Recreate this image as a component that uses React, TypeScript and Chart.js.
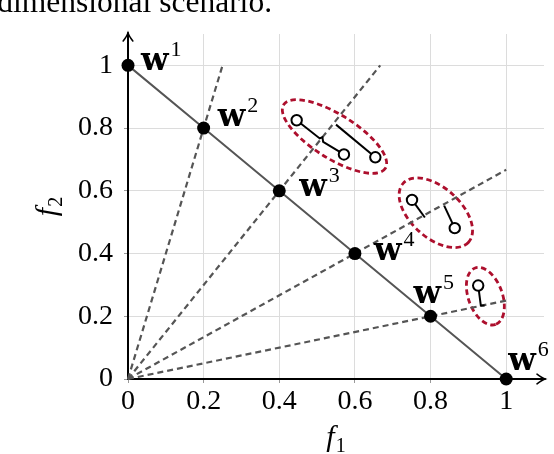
import React, { useEffect, useRef } from "react";
import { Chart, registerables } from "chart.js";

Chart.register(...registerables);

// ---- data ----
const tickValues = [0, 0.2, 0.4, 0.6, 0.8, 1];
const tickLabels = ["0", "0.2", "0.4", "0.6", "0.8", "1"];

const weightF1 = [0, 0.2, 0.4, 0.6, 0.8, 1];
const weightF2 = [1, 0.8, 0.6, 0.4, 0.2, 0];
const weightNames = ["1", "2", "3", "4", "5", "6"];

const rayEndF1 = [0.25, 0.667, 1, 1];
const rayEndF2 = [1, 1, 0.667, 0.25];

const pieceA1F1 = [0.446, 0.507, 0.514, 0.516, 0.571];
const pieceA1F2 = [0.825, 0.767, 0.771, 0.756, 0.716];
const pieceA2F1 = [0.55, 0.654];
const pieceA2F2 = [0.811, 0.707];
const pieceB1F1 = [0.751, 0.785];
const pieceB1F2 = [0.571, 0.515];
const pieceB2F1 = [0.836, 0.864];
const pieceB2F2 = [0.553, 0.481];
const pieceC1F1 = [0.926, 0.933, 0.943];
const pieceC1F2 = [0.298, 0.234, 0.234];

const openF1 = [0.446, 0.571, 0.654, 0.751, 0.864, 0.926];
const openF2 = [0.825, 0.716, 0.707, 0.571, 0.481, 0.298];

const clusterF1 = [0.546, 0.814, 0.945];
const clusterF2 = [0.773, 0.53, 0.264];

// ---- styles ----
const GRID = "#dcdcdc";
const LINE_GREY = "#555555";
const RED = "#ad0f2d";
const SERIF = '"Liberation Serif", "DejaVu Serif", serif';
const ellipseShapes = [
  { a: 60, b: 22, angle: 32 },
  { a: 44, b: 25, angle: 42 },
  { a: 30, b: 17, angle: 70 },
];
const labelOffsets = [
  { dx: 13, dy: 5 },
  { dx: 14, dy: -2 },
  { dx: 20, dy: 5 },
  { dx: 19, dy: 6 },
  { dx: -17, dy: -13 },
  { dx: 2, dy: -9 },
];

const pts = (xs: number[], ys: number[]) => xs.map((x, i) => ({ x, y: ys[i] }));

const decor = {
  id: "decor",
  beforeDatasetsDraw(chart: any) {
    const { ctx, chartArea: ca, scales } = chart;
    const xs = scales.x;
    const ys = scales.y;
    const x0 = xs.getPixelForValue(0);
    const y0 = ys.getPixelForValue(0);
    ctx.save();
    // axes with arrows
    ctx.strokeStyle = "#000";
    ctx.lineWidth = 2;
    ctx.lineCap = "round";
    ctx.beginPath();
    ctx.moveTo(x0, y0);
    ctx.lineTo(ca.right + 1, y0);
    ctx.moveTo(x0, y0);
    ctx.lineTo(x0, ca.top - 1);
    ctx.stroke();
    const ah = 8;
    ctx.lineWidth = 1.6;
    ctx.beginPath();
    ctx.moveTo(ca.right + 1 - ah, y0 - ah * 0.6);
    ctx.quadraticCurveTo(ca.right - 2, y0 - 1, ca.right + 1, y0);
    ctx.quadraticCurveTo(ca.right - 2, y0 + 1, ca.right + 1 - ah, y0 + ah * 0.6);
    ctx.moveTo(x0 - ah * 0.6, ca.top - 1 + ah);
    ctx.quadraticCurveTo(x0 - 1, ca.top + 2, x0, ca.top - 1);
    ctx.quadraticCurveTo(x0 + 1, ca.top + 2, x0 + ah * 0.6, ca.top - 1 + ah);
    ctx.stroke();

    // ellipses
    ctx.strokeStyle = RED;
    ctx.lineWidth = 2.8;
    ctx.setLineDash([5.5, 3.5]);
    ctx.lineCap = "butt";
    clusterF1.forEach((cx, i) => {
      const s = ellipseShapes[i];
      ctx.beginPath();
      ctx.ellipse(
        xs.getPixelForValue(cx),
        ys.getPixelForValue(clusterF2[i]),
        s.a,
        s.b,
        (s.angle * Math.PI) / 180,
        0,
        Math.PI * 2
      );
      ctx.stroke();
    });
    ctx.restore();
  },
  afterDraw(chart: any) {
    const { ctx, scales } = chart;
    const xs = scales.x;
    const ys = scales.y;
    ctx.save();
    ctx.fillStyle = "#000";
    ctx.textBaseline = "alphabetic";
    // weight labels
    weightF1.forEach((wx, i) => {
      const px = xs.getPixelForValue(wx) + labelOffsets[i].dx;
      const py = ys.getPixelForValue(weightF2[i]) + labelOffsets[i].dy;
      ctx.font = 'bold 32px "DejaVu Serif", serif';
      ctx.textAlign = "left";
      ctx.fillText("w", px, py);
      const w = ctx.measureText("w").width;
      ctx.font = "22px " + SERIF;
      ctx.fillText(weightNames[i], px + w + 2, py - 14);
    });
    // axis titles
    const drawTitle = (sub: string) => {
      ctx.font = "italic 30px " + SERIF;
      const fw = ctx.measureText("f").width;
      ctx.font = "20px " + SERIF;
      const sw = ctx.measureText(sub).width;
      const total = fw + sw + 1;
      ctx.textAlign = "left";
      ctx.font = "italic 30px " + SERIF;
      ctx.fillText("f", -total / 2, 0);
      ctx.font = "20px " + SERIF;
      ctx.fillText(sub, -total / 2 + fw + 1, 6);
    };
    const midX = xs.getPixelForValue(0.55);
    ctx.save();
    ctx.translate(midX, 446);
    drawTitle("1");
    ctx.restore();
    const midY = ys.getPixelForValue(0.55);
    ctx.save();
    ctx.translate(48, midY);
    ctx.rotate(-Math.PI / 2);
    ctx.translate(0, 8);
    drawTitle("2");
    ctx.restore();
    // cut caption at top
    ctx.font = "31.5px " + SERIF;
    ctx.textAlign = "right";
    ctx.fillText("dimensional scenario.", 272, 12);
    ctx.restore();
  },
};

export default function App() {
  const ref = useRef<HTMLCanvasElement>(null);
  useEffect(() => {
    if (!ref.current) return;
    const tickFont = { family: SERIF, size: 28 };
    const datasets: any[] = [
      {
        label: "weights",
        data: pts(weightF1, weightF2),
        showLine: false,
        pointRadius: 6.5,
        pointBackgroundColor: "#000",
        pointBorderColor: "#000",
        pointBorderWidth: 0,
        clip: false,
      },
      {
        label: "open",
        data: pts(openF1, openF2),
        showLine: false,
        pointRadius: 5.2,
        pointBackgroundColor: "#fff",
        pointBorderColor: "#000",
        pointBorderWidth: 2,
        clip: false,
      },
      ...[
        [pieceA1F1, pieceA1F2],
        [pieceA2F1, pieceA2F2],
        [pieceB1F1, pieceB1F2],
        [pieceB2F1, pieceB2F2],
        [pieceC1F1, pieceC1F2],
      ].map(([xa, ya], k) => ({
        label: "piece" + k,
        data: pts(xa, ya),
        showLine: true,
        borderColor: "#000",
        borderWidth: 2,
        pointRadius: 0,
        tension: 0,
        clip: false,
      })),
      {
        label: "front",
        data: pts(weightF1, weightF2),
        showLine: true,
        borderColor: LINE_GREY,
        borderWidth: 2,
        pointRadius: 0,
        clip: false,
      },
      ...rayEndF1.map((ex, k) => ({
        label: "ray" + k,
        data: [
          { x: 0, y: 0 },
          { x: ex, y: rayEndF2[k] },
        ],
        showLine: true,
        borderColor: LINE_GREY,
        borderWidth: 2.2,
        borderDash: [6, 4],
        pointRadius: 0,
        clip: false,
      })),
    ];
    const chart = new Chart(ref.current, {
      type: "scatter",
      data: { datasets },
      options: {
        responsive: false,
        animation: false,
        devicePixelRatio: 1,
        layout: { padding: { left: 0, top: 34, right: 10, bottom: 0 } },
        plugins: { legend: { display: false }, tooltip: { enabled: false } },
        scales: {
          x: {
            type: "linear",
            min: 0,
            max: 1.1,
            afterBuildTicks: (s: any) => {
              s.ticks = tickValues.map((v) => ({ value: v }));
            },
            afterFit: (s: any) => {
              s.height = 75;
            },
            ticks: {
              callback: (_v: any, i: number) => tickLabels[i],
              font: tickFont,
              color: "#000",
              padding: 2,
              maxRotation: 0,
              autoSkip: false,
            },
            grid: { color: GRID, lineWidth: 1, tickLength: 4, tickColor: "#999" },
            border: { display: false },
          },
          y: {
            type: "linear",
            min: 0,
            max: 1.1,
            afterBuildTicks: (s: any) => {
              s.ticks = tickValues.map((v) => ({ value: v }));
            },
            afterFit: (s: any) => {
              s.width = 128;
            },
            ticks: {
              callback: (_v: any, i: number) => tickLabels[i],
              font: tickFont,
              color: "#000",
              padding: 11,
              autoSkip: false,
            },
            grid: { color: GRID, lineWidth: 1, tickLength: 4, tickColor: "#999" },
            border: { display: false },
          },
        },
      } as any,
      plugins: [decor],
    });
    return () => chart.destroy();
  }, []);
  return (
    <div style={{ position: "fixed", left: 0, top: 0, width: 554, height: 454, background: "#fff" }}>
      <canvas ref={ref} width={554} height={454} style={{ width: 554, height: 454, display: "block" }} />
    </div>
  );
}
